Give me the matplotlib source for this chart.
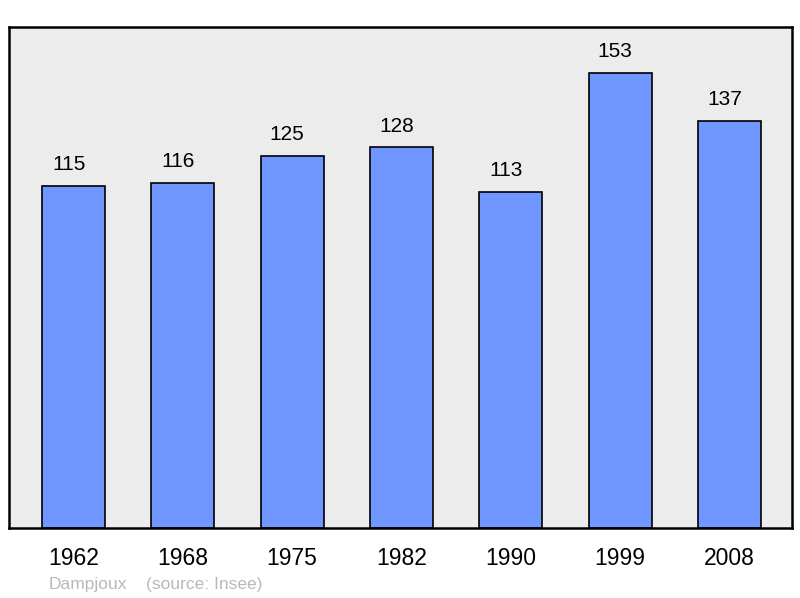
import matplotlib.pyplot as plt

years = ['1962', '1968', '1975', '1982', '1990', '1999', '2008']
population = [115, 116, 125, 128, 113, 153, 137]

plt.rcParams['font.family'] = ['Liberation Sans', 'DejaVu Sans']

fig = plt.figure(figsize=(8, 5.98), dpi=100)
ax = fig.add_axes([9 / 800, 70 / 598, 783 / 800, 501 / 598])
ax.set_facecolor('#ececec')

pos = list(range(len(years)))
ax.bar(pos, population, width=0.576, color='#7097ff', edgecolor='black', linewidth=1.2)
# value labels sit a little left of the bar centre in the original
for x, v in zip(pos, population):
    ax.text(x - 0.045, v + 4.0, str(v), ha='center', va='bottom', fontsize=15)

ax.set_xlim(-0.59, 6.572)
ax.set_ylim(0, 168.5)
ax.set_xticks(pos)
ax.set_xticklabels(years, fontsize=16.5)
ax.tick_params(axis='x', length=0, pad=14)
ax.set_yticks([])
for s in ax.spines.values():
    s.set_linewidth(1.8)

fig.text(49 / 800, 1 - 584 / 598, 'Dampjoux', color='#b8b8b8', fontsize=12.5, va='center')
fig.text(146 / 800, 1 - 584 / 598, '(source: Insee)', color='#b8b8b8', fontsize=12.5, va='center')

fig.savefig('out.png', dpi=100)
